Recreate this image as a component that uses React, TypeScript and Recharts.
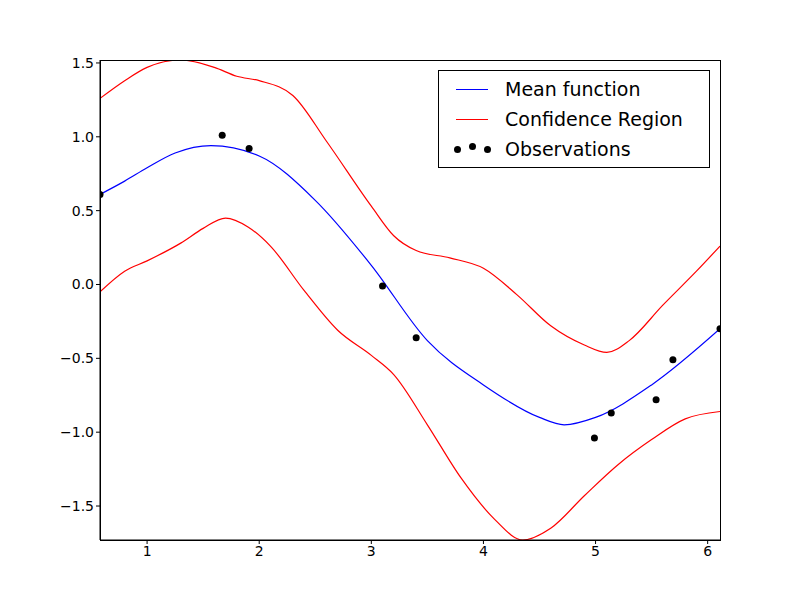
import {
  ComposedChart,
  Line,
  Scatter,
  XAxis,
  YAxis,
} from 'recharts';

const meanX = [0.58, 0.8, 1.0, 1.25, 1.57, 2.0, 2.5, 3.0, 3.5, 4.0, 4.5, 4.72, 5.0, 5.5, 6.11];
const meanY = [0.61, 0.7, 0.79, 0.89, 0.94, 0.87, 0.57, 0.13, -0.38, -0.68, -0.9, -0.95, -0.9, -0.68, -0.3];

const upperX = [0.58, 0.8, 1.0, 1.3, 1.6, 1.8, 2.0, 2.3, 2.6, 3.0, 3.2, 3.4, 3.7, 4.0, 4.3, 4.6, 4.9, 5.1, 5.3, 5.6, 5.9, 6.11];
const upperY = [1.26, 1.38, 1.47, 1.52, 1.47, 1.41, 1.38, 1.28, 0.97, 0.53, 0.33, 0.23, 0.18, 0.11, -0.07, -0.28, -0.41, -0.46, -0.38, -0.14, 0.09, 0.26];

const lowerX = [0.58, 0.8, 1.0, 1.3, 1.5, 1.7, 1.9, 2.1, 2.4, 2.7, 3.0, 3.2, 3.5, 3.8, 4.1, 4.35, 4.6, 4.9, 5.2, 5.5, 5.8, 6.11];
const lowerY = [-0.05, 0.09, 0.16, 0.28, 0.38, 0.45, 0.39, 0.26, -0.04, -0.31, -0.48, -0.61, -0.95, -1.31, -1.59, -1.73, -1.65, -1.43, -1.22, -1.05, -0.91, -0.86];

const obsX = [0.58, 1.67, 1.91, 3.1, 3.4, 4.99, 5.14, 5.54, 5.69, 6.11];
const obsY = [0.61, 1.01, 0.92, -0.01, -0.36, -1.04, -0.87, -0.78, -0.51, -0.3];

const xTicks = [1, 2, 3, 4, 5, 6];
const yTicks = [-1.5, -1.0, -0.5, 0.0, 0.5, 1.0, 1.5];

const zip = (xs: number[], ys: number[]) => xs.map((x, i) => ({ x, y: ys[i] }));

const meanData = zip(meanX, meanY);
const upperData = zip(upperX, upperY);
const lowerData = zip(lowerX, lowerY);
const obsData = zip(obsX, obsY);

const font = { fill: '#000', fontSize: 14, fontFamily: 'DejaVu Sans' };

function LegendBox() {
  const row = (mark: React.ReactNode, label: string) => (
    <div style={{ display: 'flex', alignItems: 'center', height: 30 }}>
      <div style={{ width: 66, display: 'flex', justifyContent: 'center' }}>{mark}</div>
      <span>{label}</span>
    </div>
  );
  const line = (c: string) => <div style={{ width: 32, height: 1, background: c }} />;
  const dots = (
    <div style={{ display: 'flex', gap: 8 }}>
      {[0, 1, 2].map((i) => (
        <div key={i} style={{ width: 7, height: 7, borderRadius: 4, background: '#000', marginTop: i === 1 ? -3 : 0 }} />
      ))}
    </div>
  );
  return (
    <div
      style={{
        position: 'absolute',
        left: 438,
        top: 70,
        border: '1px solid #000',
        background: '#fff',
        width: 270,
        padding: '3px 0',
        fontFamily: 'DejaVu Sans',
        fontSize: 19,
        color: '#000',
      }}
    >
      {row(line('#0000ff'), 'Mean function')}
      {row(line('#ff0000'), 'Confidence Region')}
      {row(dots, 'Observations')}
    </div>
  );
}

export default function App() {
  return (
    <div style={{ position: 'absolute', left: 0, top: 0, width: 800, height: 600, background: '#fff' }}>
      <ComposedChart width={800} height={600} margin={{ top: 60, right: 80, bottom: 0, left: 40 }}>
        <XAxis
          dataKey="x"
          type="number"
          domain={[0.58, 6.11]}
          ticks={xTicks}
          allowDataOverflow
          height={60}
          tick={font}
          stroke="#000"
          tickSize={4}
        />
        <YAxis
          dataKey="y"
          type="number"
          domain={[-1.73, 1.52]}
          ticks={yTicks}
          allowDataOverflow
          width={60}
          tick={font}
          stroke="#000"
          tickSize={4}
          tickFormatter={(v: number) => v.toFixed(1).replace('-', '\u2212')}
        />
        <Line data={upperData} dataKey="y" type="monotone" stroke="#ff0000" strokeWidth={1.2} dot={false} isAnimationActive={false} />
        <Line data={lowerData} dataKey="y" type="monotone" stroke="#ff0000" strokeWidth={1.2} dot={false} isAnimationActive={false} />
        <Line data={meanData} dataKey="y" type="monotone" stroke="#0000ff" strokeWidth={1.2} dot={false} isAnimationActive={false} />
        <Scatter data={obsData} dataKey="y" fill="#000" shape={(p: any) => <circle cx={p.cx} cy={p.cy} r={3.5} fill="#000" />} isAnimationActive={false} />
      </ComposedChart>
      <div style={{ position: 'absolute', left: 100, top: 60, width: 619, height: 479, border: '1px solid #000', pointerEvents: 'none' }} />
      <LegendBox />
    </div>
  );
}
